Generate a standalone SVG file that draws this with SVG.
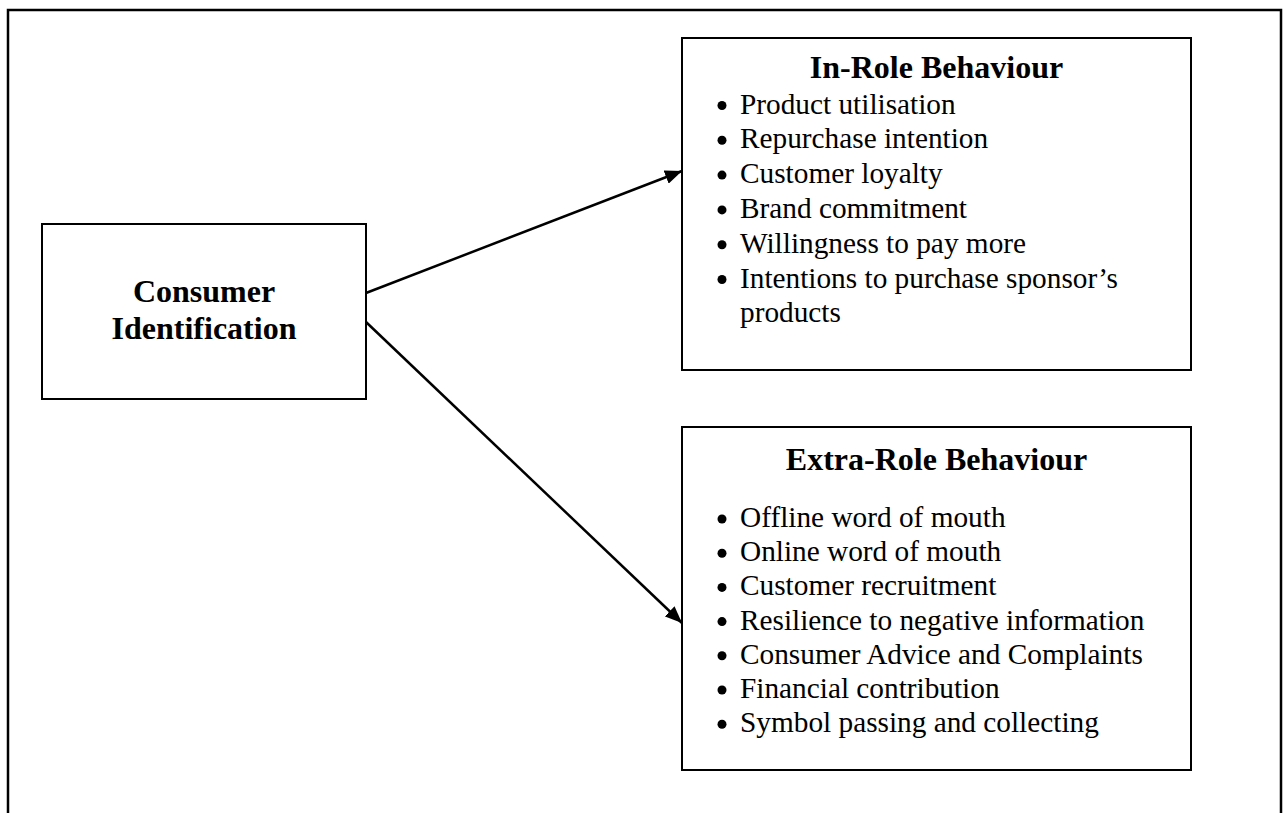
<svg xmlns="http://www.w3.org/2000/svg" width="1284" height="813" viewBox="0 0 1284 813">
<style>
.box{fill:#fff;stroke:#000;stroke-width:2}
.title{font-family:"Liberation Serif","Times New Roman",serif;font-weight:bold;font-size:32px;text-anchor:middle;fill:#000}
.item{font-family:"Liberation Serif","Times New Roman",serif;font-size:29.3px;fill:#000}
.dot{fill:#000}
.conn{stroke:#000;stroke-width:2.5;fill:none}
</style>
<defs>
<marker id="arrow" markerUnits="userSpaceOnUse" markerWidth="18" markerHeight="14" refX="17" refY="7" orient="auto">
<path d="M0,0 L17,7 L0,14 Z" fill="#000"/>
</marker>
</defs>
<rect width="1284" height="813" fill="#fff"/>
<g id="frame">
<path d="M8,830 L8,10 L1281,10 L1281,830" fill="none" stroke="#000" stroke-width="2.5"/>
</g>
<g id="consumer-identification">
<rect class="box" x="42" y="224" width="324" height="175"/>
<text class="title" x="204" y="302">Consumer</text>
<text class="title" x="204" y="339">Identification</text>
</g>
<g id="in-role-behaviour">
<rect class="box" x="682" y="38" width="509" height="332"/>
<text class="title" x="936.5" y="78">In-Role Behaviour</text>
<circle class="dot" cx="722" cy="105.5" r="4.5"/>
<text class="item" x="740" y="113.5">Product utilisation</text>
<circle class="dot" cx="722" cy="140.3" r="4.5"/>
<text class="item" x="740" y="148.3">Repurchase intention</text>
<circle class="dot" cx="722" cy="175.1" r="4.5"/>
<text class="item" x="740" y="183.1">Customer loyalty</text>
<circle class="dot" cx="722" cy="209.9" r="4.5"/>
<text class="item" x="740" y="217.9">Brand commitment</text>
<circle class="dot" cx="722" cy="244.7" r="4.5"/>
<text class="item" x="740" y="252.7">Willingness to pay more</text>
<circle class="dot" cx="722" cy="279.5" r="4.5"/>
<text class="item" x="740" y="287.5">Intentions to purchase sponsor’s</text>
<text class="item" x="740" y="322.3">products</text>
</g>
<g id="extra-role-behaviour">
<rect class="box" x="682" y="427" width="509" height="343"/>
<text class="title" x="936.5" y="470">Extra-Role Behaviour</text>
<circle class="dot" cx="722" cy="519" r="4.5"/>
<text class="item" x="740" y="527">Offline word of mouth</text>
<circle class="dot" cx="722" cy="553.2" r="4.5"/>
<text class="item" x="740" y="561.2">Online word of mouth</text>
<circle class="dot" cx="722" cy="587.4" r="4.5"/>
<text class="item" x="740" y="595.4">Customer recruitment</text>
<circle class="dot" cx="722" cy="621.6" r="4.5"/>
<text class="item" x="740" y="629.6">Resilience to negative information</text>
<circle class="dot" cx="722" cy="655.8" r="4.5"/>
<text class="item" x="740" y="663.8">Consumer Advice and Complaints</text>
<circle class="dot" cx="722" cy="690" r="4.5"/>
<text class="item" x="740" y="698">Financial contribution</text>
<circle class="dot" cx="722" cy="724.2" r="4.5"/>
<text class="item" x="740" y="732.2">Symbol passing and collecting</text>
</g>
<g id="connectors">
<line class="conn" x1="366" y1="293" x2="682" y2="171" marker-end="url(#arrow)"/>
<line class="conn" x1="366" y1="322" x2="682" y2="623" marker-end="url(#arrow)"/>
</g>
</svg>
